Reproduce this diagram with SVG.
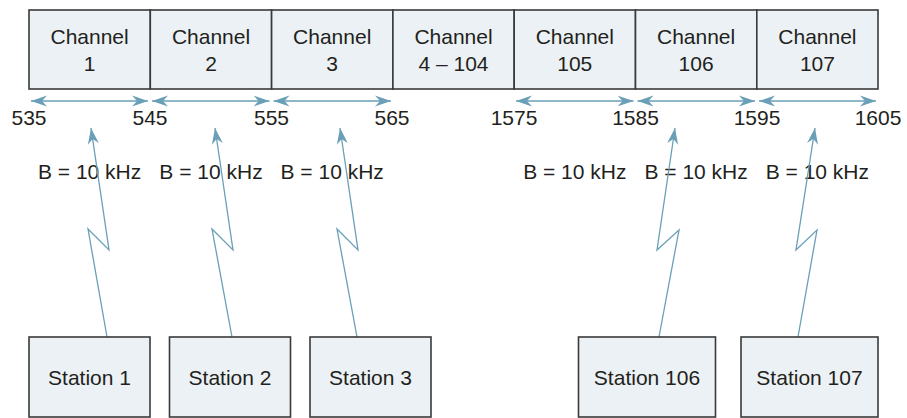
<svg xmlns="http://www.w3.org/2000/svg" width="907" height="418" viewBox="0 0 907 418">
<defs>
<style>
text{font-family:"Liberation Sans",Arial,sans-serif;font-size:21px;fill:#231f20;text-anchor:middle}
.box{fill:#ebf1f4;stroke:#3a3a3a;stroke-width:1.6}
.ln{fill:none;stroke:#6a9fb8;stroke-width:1.3}
</style>
<marker id="ah" viewBox="-16 -7 17 14" refX="0" refY="0" markerWidth="17" markerHeight="14" markerUnits="userSpaceOnUse" orient="auto-start-reverse">
<path d="M0,0 L-16,-5.5 L-11,0 L-16,5.5 Z" fill="#6a9fb8"/>
</marker>
</defs>
<g id="channels">
<g id="ch1"><rect class="box" x="29" y="10" width="121.3" height="79"/><text x="89.6" y="44">Channel</text><text x="89.6" y="71">1</text></g>
<g id="ch2"><rect class="box" x="150.3" y="10" width="121.3" height="79"/><text x="211" y="44">Channel</text><text x="211" y="71">2</text></g>
<g id="ch3"><rect class="box" x="271.6" y="10" width="121.3" height="79"/><text x="332.2" y="44">Channel</text><text x="332.2" y="71">3</text></g>
<g id="ch4"><rect class="box" x="392.9" y="10" width="121.3" height="79"/><text x="453.5" y="44">Channel</text><text x="453.5" y="71">4 – 104</text></g>
<g id="ch105"><rect class="box" x="514.2" y="10" width="121.3" height="79"/><text x="574.8" y="44">Channel</text><text x="574.8" y="71">105</text></g>
<g id="ch106"><rect class="box" x="635.5" y="10" width="121.3" height="79"/><text x="696.1" y="44">Channel</text><text x="696.1" y="71">106</text></g>
<g id="ch107"><rect class="box" x="756.8" y="10" width="121.2" height="79"/><text x="817.4" y="44">Channel</text><text x="817.4" y="71">107</text></g>
</g>
<g id="freq">
<text x="29" y="125">535</text>
<text x="150" y="125">545</text>
<text x="271.5" y="125">555</text>
<text x="392" y="125">565</text>
<text x="514" y="125">1575</text>
<text x="635.5" y="125">1585</text>
<text x="757" y="125">1595</text>
<text x="878" y="125">1605</text>
</g>
<g id="bandwidths">
<text x="89.6" y="179">B = 10 kHz</text>
<text x="211" y="179">B = 10 kHz</text>
<text x="332.2" y="179">B = 10 kHz</text>
<text x="574.8" y="179">B = 10 kHz</text>
<text x="696.1" y="179">B = 10 kHz</text>
<text x="817.4" y="179">B = 10 kHz</text>
</g>
<g id="connectors">
<line class="ln" x1="31" y1="101" x2="148" y2="101" marker-start="url(#ah)" marker-end="url(#ah)"/>
<line class="ln" x1="152" y1="101" x2="269.5" y2="101" marker-start="url(#ah)" marker-end="url(#ah)"/>
<line class="ln" x1="273.5" y1="101" x2="391" y2="101" marker-start="url(#ah)" marker-end="url(#ah)"/>
<line class="ln" x1="516" y1="101" x2="633.5" y2="101" marker-start="url(#ah)" marker-end="url(#ah)"/>
<line class="ln" x1="637.5" y1="101" x2="755" y2="101" marker-start="url(#ah)" marker-end="url(#ah)"/>
<line class="ln" x1="759" y1="101" x2="876" y2="101" marker-start="url(#ah)" marker-end="url(#ah)"/>
<polyline class="ln" points="91,128 109,250 88,229 107,337" marker-start="url(#ah)"/>
<polyline class="ln" points="215,128 233,250 212,229 232,337" marker-start="url(#ah)"/>
<polyline class="ln" points="340,128 358,250 337,229 357,337" marker-start="url(#ah)"/>
<polyline class="ln" points="675,128 657,250 679,230 659,337" marker-start="url(#ah)"/>
<polyline class="ln" points="815,128 796,250 817,230 798,337" marker-start="url(#ah)"/>
</g>
<g id="station1"><rect class="box" x="29" y="337" width="121" height="80"/><text x="89.5" y="385">Station 1</text></g>
<g id="station2"><rect class="box" x="169.5" y="337" width="121" height="80"/><text x="230" y="385">Station 2</text></g>
<g id="station3"><rect class="box" x="310" y="337" width="121" height="80"/><text x="370.5" y="385">Station 3</text></g>
<g id="station106"><rect class="box" x="578.5" y="337" width="137" height="80"/><text x="647" y="385">Station 106</text></g>
<g id="station107"><rect class="box" x="741" y="337" width="137" height="80"/><text x="809.5" y="385">Station 107</text></g>
</svg>
